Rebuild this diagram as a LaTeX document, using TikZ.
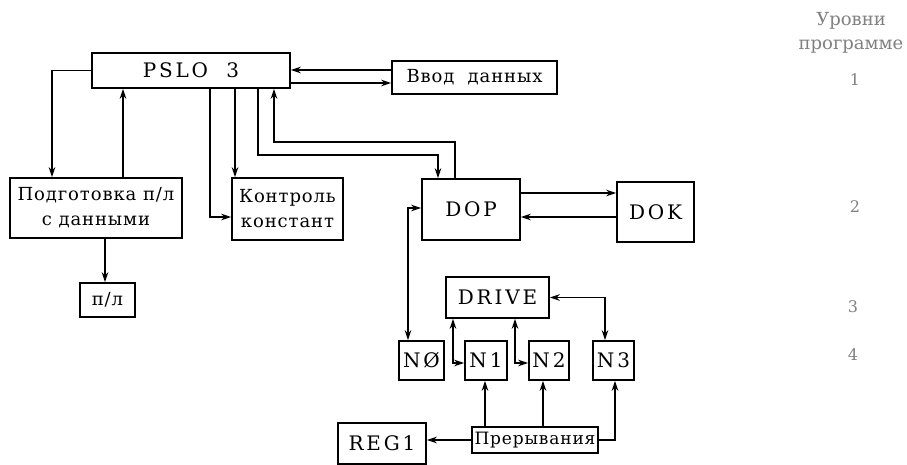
\documentclass[tikz,border=0pt]{standalone}
\usepackage{fontspec}
\setmainfont{DejaVu Serif}
\newfontfamily\capfont[LetterSpace=14]{DejaVu Serif}
\newfontfamily\rusfont[LetterSpace=5]{DejaVu Serif}
\usetikzlibrary{arrows.meta}

\begin{document}
\begin{tikzpicture}[x=1pt, y=-1pt, >={Stealth[length=10pt, width=6.5pt]}, line width=1.5pt,
    blk/.style={draw, line width=1.5pt, inner sep=0pt, align=center},
    capt/.style={font=\capfont\fontsize{20}{24}\selectfont},
    rust/.style={font=\rusfont\fontsize{18}{25}\selectfont},
    lvl/.style={text=black!50, align=center, font=\fontsize{16}{23}\selectfont}]

    \useasboundingbox (0,0) rectangle (907,464);

    % 1. Upper level: PSLO 3 and its partners
    \node[blk, capt, minimum width=198pt, minimum height=35pt] (pslo) at (191,70.5) {PSLO~~3};
    \node[blk, rust, minimum width=165pt, minimum height=33pt] (vvod) at (474.5,77.5) {Ввод~~данных};
    \node[blk, rust, minimum width=172pt, minimum height=60pt] (podg) at (96,208) {Подготовка п/л\\с данными};
    \node[blk, rust, minimum width=111pt, minimum height=62pt] (kontr) at (287.5,209) {Контроль\\констант};
    \node[blk, rust, minimum width=55pt, minimum height=34pt] (pl) at (107.5,300) {п/л};

    % 2. DOP / DOK
    \node[blk, capt, minimum width=98pt, minimum height=61pt] (dop) at (471,209.5) {DOP};
    \node[blk, capt, minimum width=77pt, minimum height=60pt] (dok) at (655.5,212) {DOK};

    % 3. DRIVE and the N boxes
    \node[blk, capt, minimum width=103pt, minimum height=41pt] (drive) at (497.5,297.5) {DRIVE};
    \node[blk, capt, minimum width=45pt, minimum height=39pt] (n0) at (421.5,360.5) {NØ};
    \node[blk, capt, minimum width=42pt, minimum height=39pt] (n1) at (486,360.5) {N1};
    \node[blk, capt, minimum width=40pt, minimum height=39pt] (n2) at (549,360.5) {N2};
    \node[blk, capt, minimum width=41pt, minimum height=39pt] (n3) at (613.5,360.5) {N3};
    \node[blk, capt, minimum width=88pt, minimum height=41pt] (reg1) at (382,443.5) {REG1};
    \node[blk, rust, font=\rusfont\fontsize{17}{20}\selectfont, minimum width=126pt, minimum height=26pt] (prer) at (535,440) {Прерывания};

    % 4. Program levels (right margin)
    \node[lvl, font=\fontsize{18}{24}\selectfont] (lvlhead) at (851,33) {Уровни\\программе};
    \node[lvl] (lv1) at (855,80) {1};
    \node[lvl] (lv2) at (855,207) {2};
    \node[lvl] (lv3) at (853,307) {3};
    \node[lvl] (lv4) at (853,355) {4};

    % 5. Connectors around PSLO 3
    \draw[->] (pslo.west) -| (52,0 |- podg.north);
    \draw[->] (123,0 |- podg.north) -- (123,0 |- pslo.south);
    \draw[->] (210,0 |- pslo.south) |- (kontr.west |- 0,217);
    \draw[->] (235,0 |- pslo.south) -- (235,0 |- kontr.north);
    \draw[->] (vvod.west |- 0,70) -- (pslo.east |- 0,70);
    \draw[->] (pslo.east |- 0,83) -- (vvod.west |- 0,83);
    \draw[->] (258,0 |- pslo.south) |- (438,155) -- (438,0 |- dop.north);
    \draw[->] (455,0 |- dop.north) |- (274,142) -- (274,0 |- pslo.south);
    \draw[->] (105,0 |- podg.south) -- (105,0 |- pl.north);

    % 6. DOP, DRIVE and interrupts
    \draw[->] (dop.east |- 0,193) -- (dok.west |- 0,193);
    \draw[->] (dok.west |- 0,217) -- (dop.east |- 0,217);
    \draw[<->] (408,0 |- n0.north) |- (dop.west |- 0,208);
    \draw[<->] (453,0 |- drive.south) |- (n1.west |- 0,363);
    \draw[<->] (515,0 |- drive.south) |- (n2.west |- 0,363);
    \draw[<->] (drive.east) -| (605,0 |- n3.north);
    \draw[->] (485,0 |- prer.north) -- (485,0 |- n1.south);
    \draw[->] (543,0 |- prer.north) -- (543,0 |- n2.south);
    \draw[->] (prer.east) -| (615,0 |- n3.south);
    \draw[->] (prer.west) -- (reg1.east |- prer.west);

\end{tikzpicture}
\end{document}
